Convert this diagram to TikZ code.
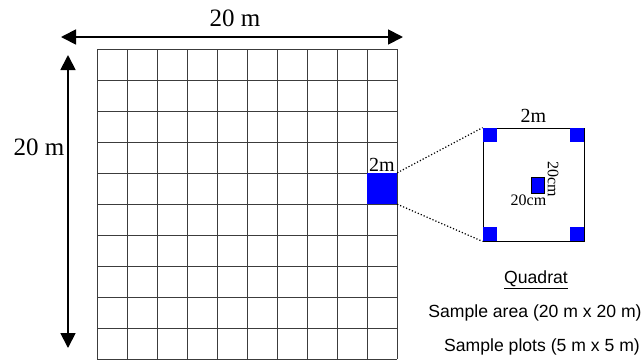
\documentclass[tikz,border=0pt]{standalone}
\usepackage{fontspec}
\setmainfont{Liberation Serif}
\setsansfont{Liberation Sans}
\usepackage{xcolor}
\usepackage{tikz}
\usetikzlibrary{arrows.meta,positioning}
\definecolor{plotblue}{HTML}{0000FF}
\definecolor{gridgrey}{HTML}{3C3C3C}
\newcommand{\fs}[1]{\fontsize{#1}{#1}\selectfont}

\begin{document}
\begin{tikzpicture}[x=1pt, y=-1pt,
    gridline/.style={gridgrey, line width=1pt},
    dimarrow/.style={line width=1.8pt, {Triangle[length=15pt,width=15pt]}-{Triangle[length=15pt,width=15pt]}},
    cellbox/.style={fill=plotblue, draw=none, minimum width=30pt, minimum height=31pt, inner sep=0pt},
    quadbox/.style={draw=black, line width=0.8pt, minimum width=101pt, minimum height=113pt, inner sep=0pt},
    cornerbox/.style={fill=plotblue, draw=none, minimum size=14.5pt, inner sep=0pt},
    centrebox/.style={fill=plotblue, draw=black, line width=0.5pt, minimum width=13pt, minimum height=16pt, inner sep=0pt},
    zoomline/.style={dotted, line width=1.2pt},
    dimlabel/.style={font=\fs{25}, inner sep=1pt},
    sidelabel/.style={font=\fs{20}, inner sep=1pt},
    cmlabel/.style={font=\fs{16}, inner sep=1pt},
    notelabel/.style={font=\sffamily\fs{17.6}, inner sep=1pt}]
  \useasboundingbox (0,0) rectangle (644,360);
  \pgfmathsetmacro{\gx}{97}
  \pgfmathsetmacro{\gy}{49}
  % 20 m x 20 m sample area
  \foreach \i in {0,...,10} {
    \draw[gridline] (\gx+30*\i, \gy) -- (\gx+30*\i, \gy+310);
    \draw[gridline] (\gx, \gy+31*\i) -- (\gx+300, \gy+31*\i);
  }
  \coordinate (topl) at (61,37);
  \coordinate (topr) at (403,37);
  \draw[dimarrow] (topl) -- (topr);
  \node[dimlabel] (toplabel) at (235,18) {20 m};
  \coordinate (sidet) at (68,55);
  \coordinate (sideb) at (68,348);
  \draw[dimarrow] (sidet) -- (sideb);
  \node[dimlabel] (sidelabel) at (39,147) {20 m};
  % one plot, blown up
  \node[cellbox] (plot) at (382,188.5) {};
  \node[sidelabel, anchor=south] (plotlabel) at (plot.north) {2m};
  \node[quadbox] (quad) at (533.5,184.5) {};
  \node[cornerbox, anchor=north west] (cnw) at (quad.north west) {};
  \node[cornerbox, anchor=north east] (cne) at (quad.north east) {};
  \node[cornerbox, anchor=south west] (csw) at (quad.south west) {};
  \node[cornerbox, anchor=south east] (cse) at (quad.south east) {};
  \node[centrebox] (centre) at (537.5,185) {};
  \node[cmlabel, below=0pt of centre.south, xshift=-9pt] (cmbelow) {20cm};
  \node[cmlabel, rotate=-90] (cmside) at (553,179) {20cm};
  \node[sidelabel, above=4pt of quad.north] (quadlabel) {2m};
  \draw[zoomline] (plot.north east) -- (quad.north west);
  \draw[zoomline] (plot.south east) -- (quad.south west);
  % notes
  \node[notelabel] (quadrat) at (536,280) {\underline{Quadrat}};
  \node[notelabel] (area) at (535,313) {Sample area (20 m x 20 m)};
  \node[notelabel] (plots) at (542,347) {Sample plots (5 m x 5 m)};
\end{tikzpicture}
\end{document}
